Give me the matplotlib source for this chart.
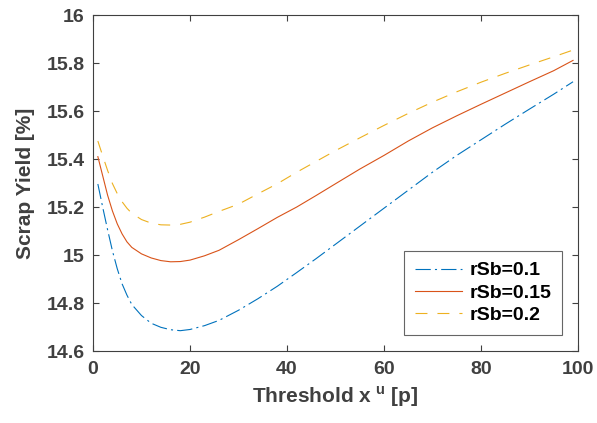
import matplotlib
matplotlib.use("Agg")
import matplotlib.pyplot as plt

# threshold values (x) and scrap yield (%) for each rSb
x = [1, 2, 3, 4, 5, 6, 7, 8, 10, 12, 14, 16, 18, 20, 23, 26, 30, 34, 38,
     42, 46, 50, 55, 60, 65, 70, 75, 80, 85, 90, 95, 99]
y_01 = [15.296, 15.199, 15.106, 15.018, 14.943, 14.88, 14.833, 14.794,
        14.748, 14.716, 14.699, 14.689, 14.685, 14.69, 14.706, 14.728,
        14.77, 14.818, 14.87, 14.927, 14.985, 15.045, 15.12, 15.195, 15.27,
        15.345, 15.415, 15.48, 15.545, 15.608, 15.67, 15.722]
y_015 = [15.41, 15.33, 15.25, 15.184, 15.13, 15.088, 15.055, 15.032,
         15.005, 14.988, 14.977, 14.972, 14.973, 14.979, 14.997, 15.02,
         15.064, 15.11, 15.157, 15.2, 15.248, 15.297, 15.358, 15.415,
         15.475, 15.53, 15.58, 15.628, 15.675, 15.722, 15.768, 15.811]
y_02 = [15.475, 15.413, 15.353, 15.298, 15.256, 15.222, 15.195, 15.174,
        15.148, 15.133, 15.126, 15.125, 15.128, 15.137, 15.158, 15.182,
        15.212, 15.255, 15.297, 15.345, 15.39, 15.435, 15.488, 15.54,
        15.59, 15.637, 15.68, 15.72, 15.757, 15.792, 15.826, 15.854]
labels = ["rSb=0.1", "rSb=0.15", "rSb=0.2"]
xticks = [0, 20, 40, 60, 80, 100]
yticks = [14.6, 14.8, 15.0, 15.2, 15.4, 15.6, 15.8, 16.0]
ytick_labels = ["14.6", "14.8", "15", "15.2", "15.4", "15.6", "15.8", "16"]

GRAY = "#404040"
plt.rcParams["font.family"] = ["Liberation Sans", "DejaVu Sans"]
plt.rcParams["font.weight"] = "bold"
plt.rcParams["mathtext.fontset"] = "custom"
plt.rcParams["mathtext.rm"] = "Liberation Sans:bold"
plt.rcParams["mathtext.bf"] = "Liberation Sans:bold"
plt.rcParams["lines.scale_dashes"] = False

fig = plt.figure(figsize=(5.97, 4.23), dpi=100)
ax = fig.add_axes([0.1558, 0.170, 0.8122, 0.7945])

ax.plot(x, y_01, color="#0072BD", lw=0.8, dashes=(11, 3, 1.5, 3), label=labels[0])
ax.plot(x, y_015, color="#D95319", lw=0.8, label=labels[1])
ax.plot(x, y_02, color="#EDB120", lw=0.8, dashes=(8.6, 7.2), label=labels[2])

ax.set_xlim(0, 100)
ax.set_ylim(14.6, 16)
ax.set_xticks(xticks)
ax.set_yticks(yticks)
ax.set_yticklabels(ytick_labels)
ax.tick_params(direction="in", top=True, right=True, length=4, width=0.8,
               colors=GRAY, labelsize=14)
ax.tick_params(axis="x", pad=7)
ax.tick_params(axis="y", pad=6)
for s in ax.spines.values():
    s.set_color(GRAY)
    s.set_linewidth(0.8)

ax.set_xlabel(r"Threshold x$^{\mathrm{\ u}}$ [p]", fontsize=15, color=GRAY,
              fontweight="bold", labelpad=5)
ax.set_ylabel("Scrap Yield [%]", fontsize=15, color=GRAY, fontweight="bold",
              labelpad=8)

leg = ax.legend(loc="lower right", bbox_to_anchor=(0.967, 0.048),
                borderaxespad=0, fontsize=14, frameon=True, fancybox=False,
                edgecolor=GRAY, handlelength=2.4, handletextpad=0.4,
                borderpad=0.55, labelspacing=0.25)
leg.get_frame().set_linewidth(0.8)
for t in leg.get_texts():
    t.set_color("black")

fig.savefig("out.png", dpi=100)
